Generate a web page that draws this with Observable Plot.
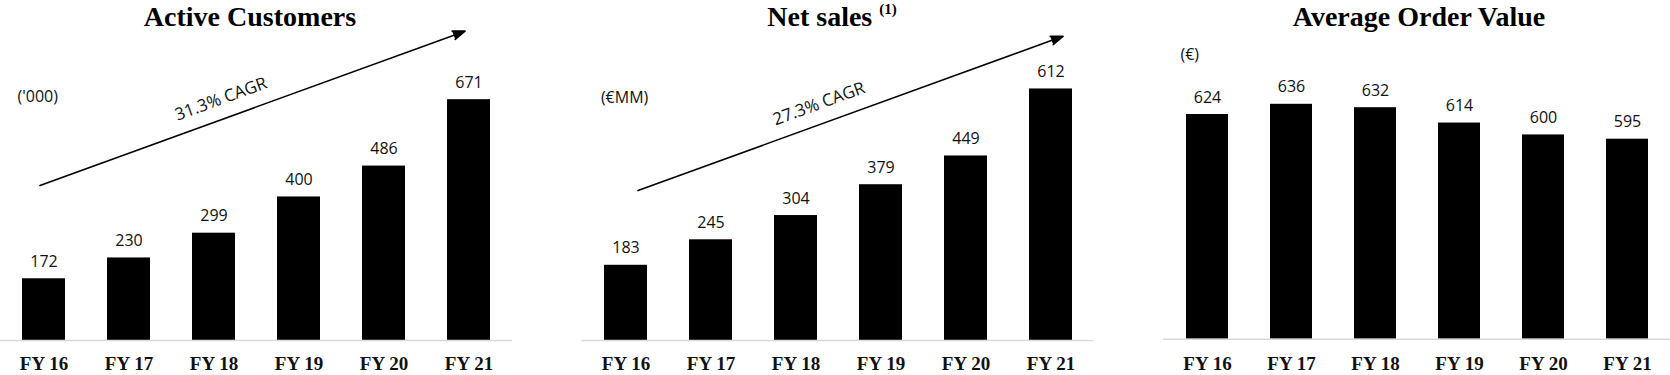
<!DOCTYPE html>
<html>
<head>
<meta charset="utf-8">
<script src="https://cdn.jsdelivr.net/npm/d3@7"></script>
<script src="https://cdn.jsdelivr.net/npm/@observablehq/plot@0.6"></script>
<style>
  html, body { margin: 0; padding: 0; background: #fff; }
  #chart { position: relative; width: 1670px; height: 375px; overflow: hidden; background: #fff; }
  .title { position: absolute; top: 3px; font-family: "Liberation Serif", "Times New Roman", serif; font-weight: bold;
           font-size: 28px; line-height: 28px; white-space: nowrap; transform: translateX(-50%); color: #000; }
  .title .sup { font-size: 15px; position: relative; top: -12px; margin-left: 7px; }
  .panel { position: absolute; top: 0; }
</style>
</head>
<body>
<div id="chart"></div>
<script>
// ---- data ----
const years = ["FY 16", "FY 17", "FY 18", "FY 19", "FY 20", "FY 21"];
const activeCustomers = [172, 230, 299, 400, 486, 671];
const netSales = [183, 245, 304, 379, 449, 612];
const averageOrderValue = [624, 636, 632, 614, 600, 595];

const titles = ["Active Customers", "Net sales", "Average Order Value"];
const titleNote = "(1)";
const units = ["('000)", "(€MM)", "(€)"];
const cagrLabels = ["31.3% CAGR", "27.3% CAGR"];
// trend arrow start / end values (in each chart's units), from FY 16 to FY 21
const customersTrend = [432, 862];
const salesTrend = [365, 740];
// value axis ranges
const customersDomain = [0, 900];
const salesDomain = [0, 780];
const aovDomain = [360, 720];

const chart = document.getElementById("chart");

function rows(values) {
  return years.map((year, i) => ({year, value: values[i]}));
}

function makePanel(cfg) {
  const data = rows(cfg.values);
  const base = cfg.domain[0];
  const marks = [
    Plot.barY(data, {x: "year", y1: base, y2: "value", fill: "black"}),
    Plot.ruleY([base], {stroke: "#d9d9d9", strokeWidth: 1.5}),
    Plot.text(data, {x: "year", y: "value", text: d => String(d.value), lineAnchor: "bottom", dy: -12,
      fontFamily: "'Open Sans', sans-serif", fontSize: 16, fill: "#111"}),
    Plot.axisX({tickSize: 0, tickPadding: cfg.tickPadding, label: null, fontSize: 19, fontWeight: "bold",
      fontFamily: "'Liberation Serif', 'Times New Roman', serif", fill: "#111"}),
    Plot.text([cfg.unit], {frameAnchor: "top-left", text: d => d, textAnchor: "start", lineAnchor: "middle",
      dx: cfg.unitDx, dy: cfg.unitDy, fontFamily: "'Open Sans', sans-serif", fontSize: 16, fill: "#111"})
  ];
  if (cfg.trend) {
    marks.push(
      Plot.arrow([{x1: years[0], y1: cfg.trend[0], x2: years[years.length - 1], y2: cfg.trend[1]}], {
        x1: "x1", y1: "y1", x2: "x2", y2: "y2", dx: cfg.arrowDx, stroke: "black", fill: "black",
        strokeWidth: 1.6, headLength: 12, headAngle: 40
      }),
      Plot.text([cfg.cagr], {x: () => years[2], y: () => cfg.cagrAt, text: d => d, dx: cfg.cagrDx,
        rotate: -20.1, textAnchor: "middle", lineAnchor: "middle",
        fontFamily: "'Open Sans', sans-serif", fontSize: 17, fill: "#111"})
    );
  }
  const svg = Plot.plot({
    width: cfg.width,
    height: 375,
    marginLeft: cfg.marginLeft,
    marginRight: cfg.marginRight,
    marginTop: cfg.marginTop,
    marginBottom: cfg.marginBottom,
    x: {domain: years, paddingInner: 0.5, paddingOuter: 0.25},
    y: {domain: cfg.domain, axis: null},
    style: {background: "transparent", color: "black", overflow: "visible"},
    marks
  });
  const wrap = document.createElement("div");
  wrap.className = "panel";
  wrap.style.left = cfg.left + "px";
  wrap.appendChild(svg);
  chart.appendChild(wrap);

  const t = document.createElement("div");
  t.className = "title";
  t.style.left = cfg.titleCenter + "px";
  t.textContent = cfg.title;
  if (cfg.note) {
    const s = document.createElement("span");
    s.className = "sup";
    s.textContent = cfg.note;
    t.appendChild(s);
  }
  chart.appendChild(t);
}

makePanel({
  values: activeCustomers, domain: customersDomain, left: 0, width: 560,
  marginLeft: 0, marginRight: 48, marginTop: 17, marginBottom: 35, tickPadding: 16,
  unit: units[0], unitDx: 17, unitDy: 79,
  trend: customersTrend, arrowDx: -4, cagr: cagrLabels[0], cagrAt: 673, cagrDx: 7,
  title: titles[0], titleCenter: 250
});

makePanel({
  values: netSales, domain: salesDomain, left: 560, width: 560,
  marginLeft: 21.4, marginRight: 26.6, marginTop: 19.4, marginBottom: 35, tickPadding: 16,
  unit: units[1], unitDx: 19, unitDy: 77.6,
  trend: salesTrend, arrowDx: 12, cagr: cagrLabels[1], cagrAt: 576, cagrDx: 23,
  title: titles[1], note: titleNote, titleCenter: 832
});

makePanel({
  values: averageOrderValue, domain: aovDomain, left: 1120, width: 550,
  marginLeft: 43, marginRight: 0, marginTop: 32.3, marginBottom: 36.3, tickPadding: 17,
  unit: units[2], unitDx: 17, unitDy: 22.2,
  title: titles[2], titleCenter: 1419
});
</script>
</body>
</html>
